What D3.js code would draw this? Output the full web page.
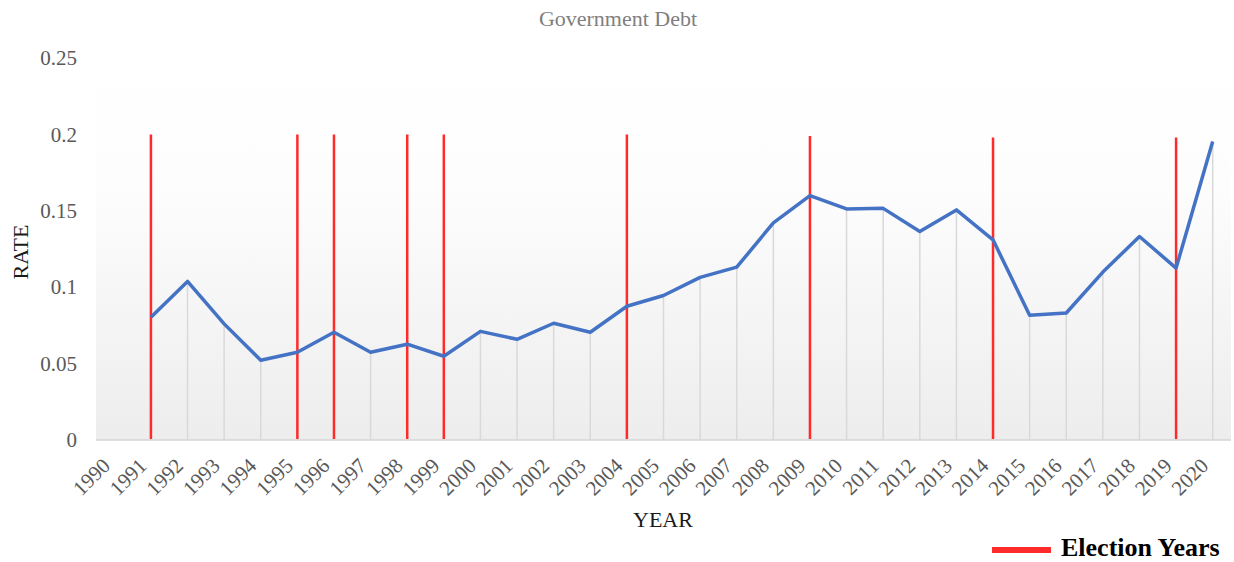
<!DOCTYPE html>
<html>
<head>
<meta charset="utf-8">
<script src="https://cdn.jsdelivr.net/npm/d3@7"></script>
<style>
  html, body { margin: 0; padding: 0; background: #ffffff; }
  svg { display: block; font-family: "Liberation Serif", "Times New Roman", serif; }
</style>
</head>
<body>
<svg id="chart" width="1234" height="562"></svg>
<script>
// Year categories along the x axis
const years = d3.range(1990, 2021).map(String);

// Government debt rate per year (1990 has no reading)
const debtYears = ["1991","1992","1993","1994","1995","1996","1997","1998","1999","2000",
  "2001","2002","2003","2004","2005","2006","2007","2008","2009","2010",
  "2011","2012","2013","2014","2015","2016","2017","2018","2019","2020"];
const debtRate = [0.0803, 0.1038, 0.0760, 0.0522, 0.0574, 0.0705, 0.0574, 0.0627, 0.0548, 0.0711,
  0.0659, 0.0764, 0.0705, 0.0875, 0.0946, 0.1064, 0.1131, 0.1421, 0.1599, 0.1512,
  0.1516, 0.1364, 0.1506, 0.1310, 0.0816, 0.0831, 0.1099, 0.1332, 0.1125, 0.1954];

// Election years, marked with red rules
const electionYears = ["1991","1995","1996","1998","1999","2004","2009","2014","2019"];
const electionTop = [0.2, 0.2, 0.2, 0.2, 0.2, 0.2, 0.199, 0.198, 0.198];

// Y axis ticks
const yTicks = [0, 0.05, 0.1, 0.15, 0.2, 0.25];
const yTickLabels = ["0", "0.05", "0.1", "0.15", "0.2", "0.25"];

const svg = d3.select("#chart");
const plot = { left: 96, right: 1231, top: 50, bottom: 440 };

const x = d3.scaleBand().domain(years).range([plot.left, plot.right]).padding(0);
const cx = d => x(d) + x.bandwidth() / 2;
const y = d3.scaleLinear().domain([0, 0.25]).range([plot.bottom, 58]);

// Plot area background gradient
const defs = svg.append("defs");
const grad = defs.append("linearGradient").attr("id", "plotBg")
  .attr("x1", 0).attr("y1", 0).attr("x2", 0).attr("y2", 1);
grad.append("stop").attr("offset", "0%").attr("stop-color", "#ffffff");
grad.append("stop").attr("offset", "35%").attr("stop-color", "#fdfdfd");
grad.append("stop").attr("offset", "100%").attr("stop-color", "#ededed");

svg.append("rect")
  .attr("x", plot.left).attr("y", plot.top)
  .attr("width", plot.right - plot.left).attr("height", plot.bottom - plot.top)
  .attr("fill", "url(#plotBg)");

// Title
svg.append("text")
  .attr("x", 618).attr("y", 26)
  .attr("text-anchor", "middle")
  .attr("font-size", 22)
  .attr("fill", "#7f7f7f")
  .text("Government Debt");

// Drop lines from each point down to the baseline
const pts = debtYears.map((yr, i) => ({ yr, v: debtRate[i] }));
svg.append("g").selectAll("line").data(pts).join("line")
  .attr("x1", d => cx(d.yr)).attr("x2", d => cx(d.yr))
  .attr("y1", d => y(d.v)).attr("y2", y(0))
  .attr("stroke", "#d9d9d9").attr("stroke-width", 1.5);

// Baseline axis
const xAxis = d3.axisBottom(x).tickSize(0).tickPadding(0);
const gx = svg.append("g").attr("transform", `translate(0,${plot.bottom})`).call(xAxis);
gx.select(".domain").attr("stroke", "#d4d4d4").attr("stroke-width", 1.5)
  .attr("d", `M${plot.left},0H${plot.right}`);
gx.selectAll(".tick text")
  .attr("font-family", "Liberation Serif, Times New Roman, serif")
  .attr("font-size", 21)
  .attr("fill", "#595959")
  .attr("text-anchor", "end")
  .attr("dy", 0)
  .attr("y", 0)
  .attr("transform", "translate(-3,27) rotate(-45)");

// Y axis labels
const yAxis = d3.axisLeft(y).tickValues(yTicks).tickFormat((d, i) => yTickLabels[i]).tickSize(0).tickPadding(0);
const gy = svg.append("g").attr("transform", "translate(77,0)").call(yAxis);
gy.select(".domain").remove();
gy.selectAll(".tick text")
  .attr("font-family", "Liberation Serif, Times New Roman, serif")
  .attr("font-size", 21)
  .attr("fill", "#595959");

// Election year rules
const elections = electionYears.map((yr, i) => ({ yr, top: electionTop[i] }));
svg.append("g").selectAll("line").data(elections).join("line")
  .attr("x1", d => cx(d.yr)).attr("x2", d => cx(d.yr))
  .attr("y1", d => y(d.top)).attr("y2", y(0) - 1)
  .attr("stroke", "#ff2b2b").attr("stroke-width", 2.5);

// Debt rate line
const line = d3.line().x(d => cx(d.yr)).y(d => y(d.v));
svg.append("path").datum(pts)
  .attr("d", line)
  .attr("fill", "none")
  .attr("stroke", "#4472c4")
  .attr("stroke-width", 3.5)
  .attr("stroke-linejoin", "round");

// Axis titles
svg.append("text")
  .attr("transform", "translate(28,252) rotate(-90)")
  .attr("text-anchor", "middle")
  .attr("font-size", 22)
  .attr("fill", "#1a1a1a")
  .text("RATE");

svg.append("text")
  .attr("x", 663).attr("y", 527)
  .attr("text-anchor", "middle")
  .attr("font-size", 22)
  .attr("fill", "#1a1a1a")
  .text("YEAR");

// Legend
const legend = svg.append("g");
legend.append("line")
  .attr("x1", 992).attr("x2", 1051).attr("y1", 550).attr("y2", 550)
  .attr("stroke", "#ff2b2b").attr("stroke-width", 6);
legend.append("text")
  .attr("x", 1061).attr("y", 556)
  .attr("font-size", 26).attr("font-weight", "bold")
  .attr("fill", "#000000")
  .text("Election Years");
</script>
</body>
</html>
